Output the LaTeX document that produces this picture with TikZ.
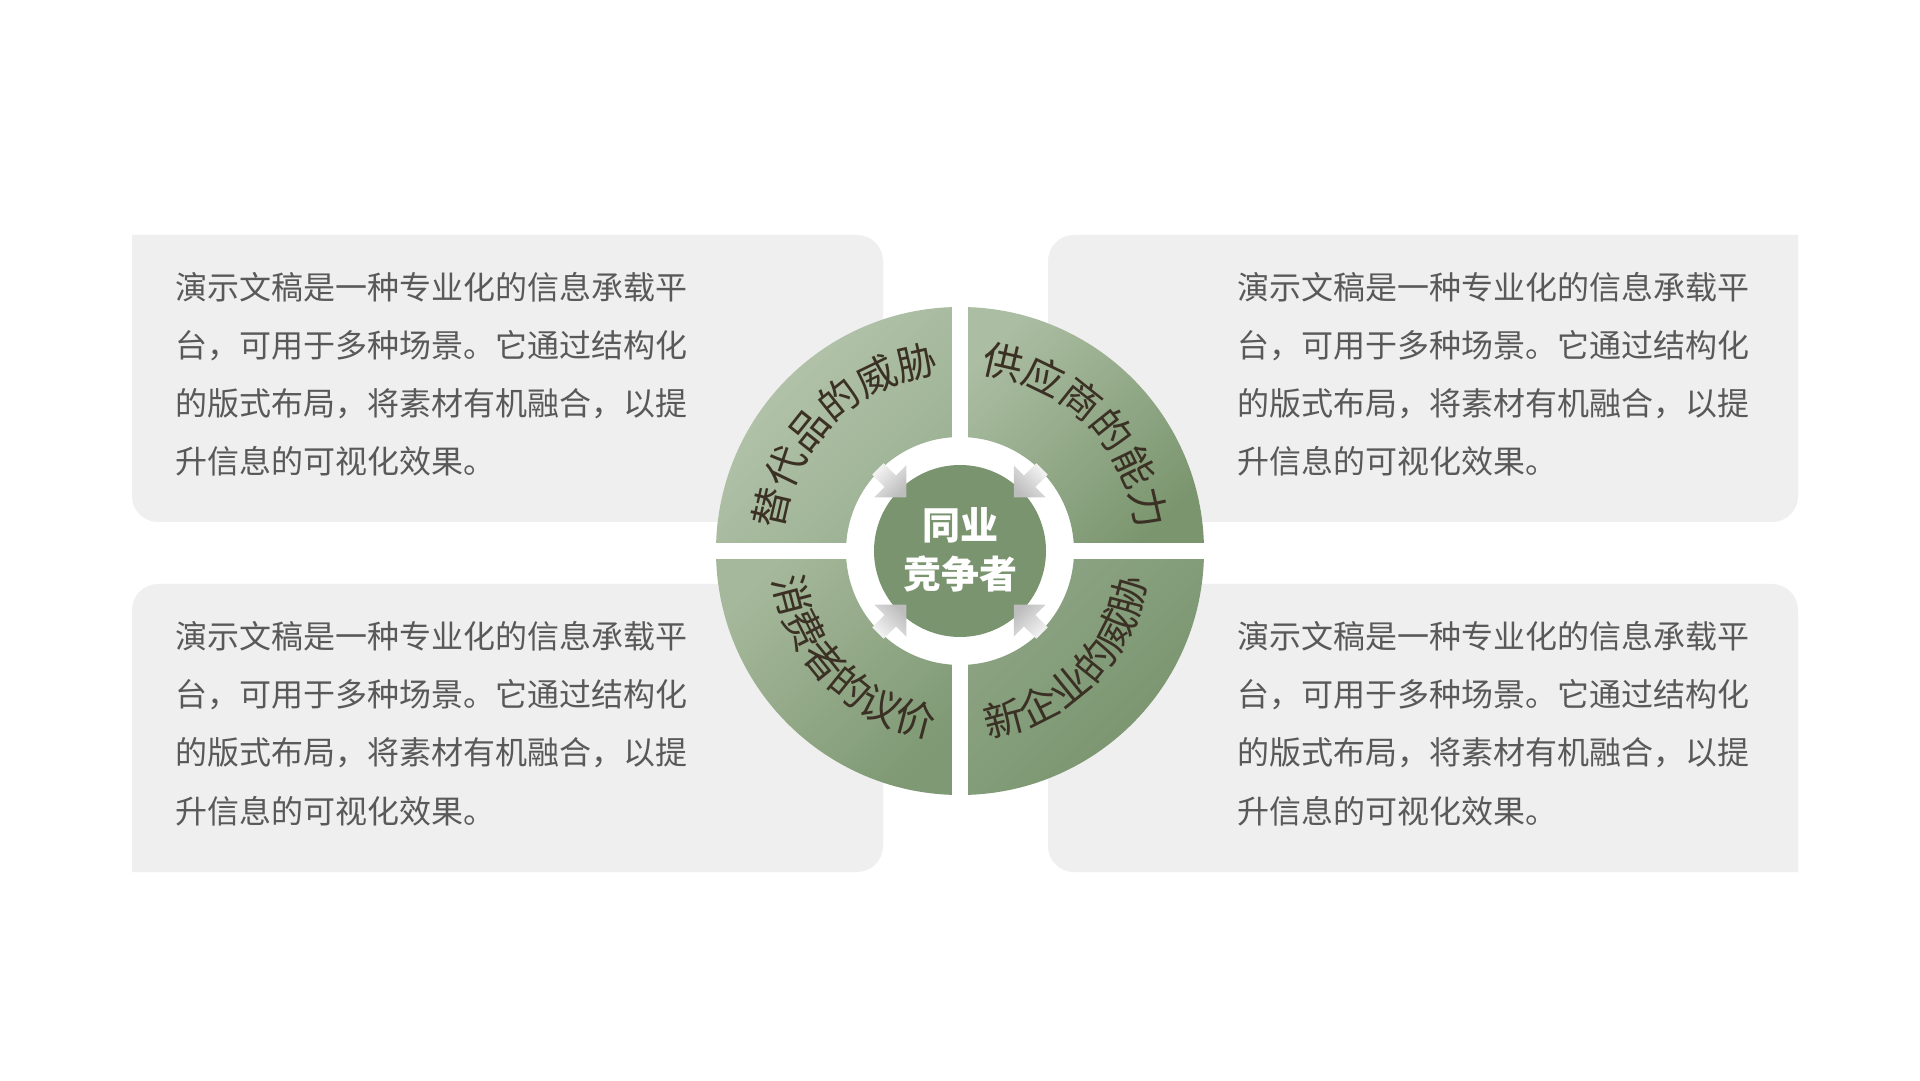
\documentclass[tikz,border=0pt]{standalone}
\usepackage{fontspec}
\newfontfamily\cjk{Noto Sans CJK SC}
\usetikzlibrary{decorations.text}
\definecolor{boxC}{HTML}{EFEFEF}
\definecolor{paraC}{HTML}{595959}
\definecolor{secTxt}{HTML}{3B3024}
\definecolor{ctrC}{HTML}{7A946F}
\definecolor{tlA}{HTML}{B6C6AE}
\definecolor{tlB}{HTML}{9AB091}
\definecolor{trA}{HTML}{ABBDA2}
\definecolor{trB}{HTML}{7B966F}
\definecolor{blA}{HTML}{A5B89B}
\definecolor{blB}{HTML}{7F9974}
\definecolor{brA}{HTML}{8EA585}
\definecolor{brB}{HTML}{78936D}
\definecolor{arrL}{HTML}{F4F4F4}
\definecolor{arrD}{HTML}{BDBDBD}
\newcommand\secfont{\cjk\fontsize{40pt}{40pt}\selectfont\color{secTxt}}
\tikzset{
  para/.style={font=\cjk\fontsize{32pt}{32pt}\selectfont, text=paraC, inner sep=0pt, anchor=base west},
  secpath/.style={decorate, decoration={text along path, text align=center, text={|\secfont|#1}}}
}
\newcommand\paralines[3]{%
  \node[para] (#1-1) at (#2,#3) {演示文稿是一种专业化的信息承载平};
  \node[para] (#1-2) at (#2,#3-58) {台，可用于多种场景。它通过结构化};
  \node[para] (#1-3) at (#2,#3-116) {的版式布局，将素材有机融合，以提};
  \node[para] (#1-4) at (#2,#3-174) {升信息的可视化效果。};
}
\begin{document}
\begin{tikzpicture}[x=1pt,y=1pt]
\useasboundingbox (0,0) rectangle (1920,1080);
\fill[white] (0,0) rectangle (1920,1080);
% boxes
\fill[boxC] (132,845) -- (857,845) arc[start angle=90,end angle=0,radius=26pt] -- (883,558) -- (158,558) arc[start angle=270,end angle=180,radius=26pt] -- cycle;
\fill[boxC] (1048,819) arc[start angle=180,end angle=90,radius=26pt] -- (1798,845) -- (1798,584) arc[start angle=0,end angle=-90,radius=26pt] -- (1048,558) -- cycle;
\fill[boxC] (132,470) arc[start angle=180,end angle=90,radius=26pt] -- (883,496) -- (883,234) arc[start angle=0,end angle=-90,radius=26pt] -- (132,208) -- cycle;
\fill[boxC] (1048,496) -- (1772,496) arc[start angle=90,end angle=0,radius=26pt] -- (1798,208) -- (1074,208) arc[start angle=270,end angle=180,radius=26pt] -- cycle;
% paragraphs
\paralines{tl}{175}{780}
\paralines{tr}{1237}{780}
\paralines{bl}{175}{431}
\paralines{br}{1237}{431}
% wheel
\begin{scope}[shift={(960,529)}]
\fill[white] (0,0) circle[radius=244pt];
\shade[top color=tlA,bottom color=tlB,shading angle=45] (180:114pt) -- (180:244pt) arc[start angle=180,end angle=90,radius=244pt] -- (90:114pt) arc[start angle=90,end angle=180,radius=114pt] -- cycle;
\shade[top color=trA,bottom color=trB,shading angle=45] (90:114pt) -- (90:244pt) arc[start angle=90,end angle=0,radius=244pt] -- (0:114pt) arc[start angle=0,end angle=90,radius=114pt] -- cycle;
\shade[top color=blA,bottom color=blB,shading angle=45] (180:114pt) -- (180:244pt) arc[start angle=180,end angle=270,radius=244pt] -- (270:114pt) arc[start angle=270,end angle=180,radius=114pt] -- cycle;
\shade[top color=brA,bottom color=brB,shading angle=45] (270:114pt) -- (270:244pt) arc[start angle=270,end angle=360,radius=244pt] -- (0:114pt) arc[start angle=360,end angle=270,radius=114pt] -- cycle;
\fill[white] (-8,-246) rectangle (8,246);
\fill[white] (-246,-8) rectangle (246,8);
\fill[ctrC] (0,0) circle[radius=86pt];
\foreach \p/\s in {45/-45,135/45,225/135,315/225}{
  \shade[top color=arrL,bottom color=arrD,shading angle=\s]
    (\p:76pt) -- (\p+12.91:101.16pt) -- (\p+4.64:98.92pt) -- (\p+3.95:116.28pt)
    -- (\p-3.95:116.28pt) -- (\p-4.64:98.92pt) -- (\p-12.91:101.16pt) -- cycle;
}
\path[secpath={替代品的威胁}] (180:179pt) arc[start angle=180,end angle=90,radius=179pt];
\path[secpath={供应商的能力}] (90:179pt) arc[start angle=90,end angle=0,radius=179pt];
\path[secpath={消费者的议价}] (180:189pt) arc[start angle=180,end angle=270,radius=189pt];
\path[secpath={新企业的威胁}] (270:189pt) arc[start angle=270,end angle=360,radius=189pt];
\node[font=\cjk\bfseries\fontsize{38pt}{49pt}\selectfont, text=white, align=center, inner sep=0pt] (ctr) at (0,1) {同业\\竞争者};
\end{scope}
\end{tikzpicture}
\end{document}
